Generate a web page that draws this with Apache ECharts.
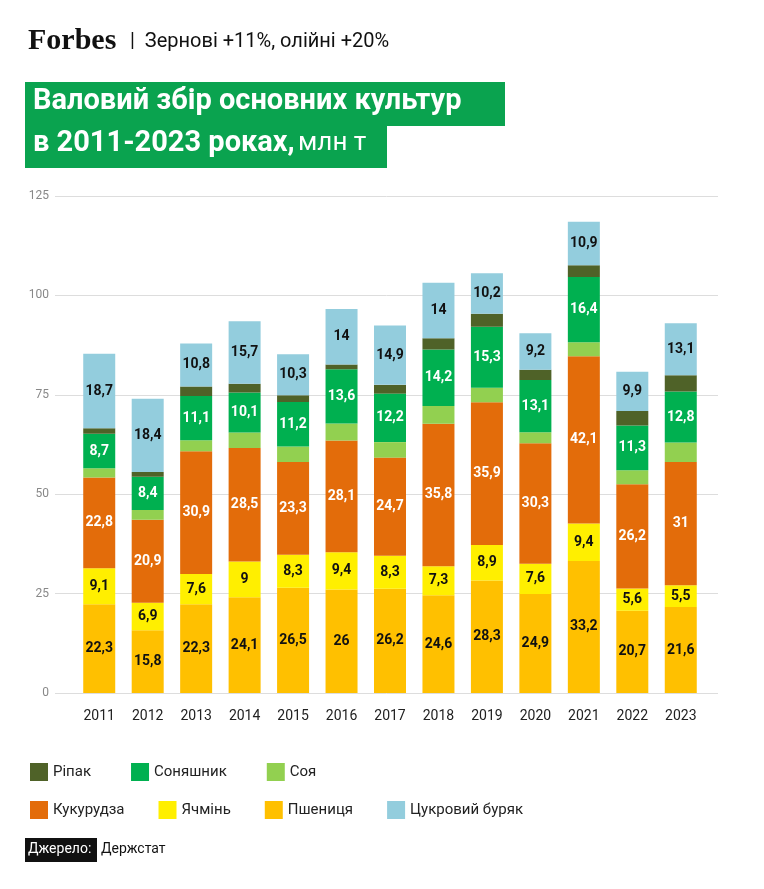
<!DOCTYPE html>
<html><head><meta charset="utf-8">
<script src="https://cdn.jsdelivr.net/npm/echarts@6/dist/echarts.min.js"></script>
<style>html,body{margin:0;padding:0;background:#fff}#c{width:764px;height:889px}</style>
</head><body><div id="c"></div>
<script>
// Роки
const years = ['2011','2012','2013','2014','2015','2016','2017','2018','2019','2020','2021','2022','2023'];
// Культури, млн т
const wheat = [22.3,15.8,22.3,24.1,26.5,26,26.2,24.6,28.3,24.9,33.2,20.7,21.6];
const barley = [9.1,6.9,7.6,9,8.3,9.4,8.3,7.3,8.9,7.6,9.4,5.6,5.5];
const corn = [22.8,20.9,30.9,28.5,23.3,28.1,24.7,35.8,35.9,30.3,42.1,26.2,31];
const soy = [2.3,2.4,2.8,3.9,3.9,4.3,3.9,4.5,3.7,2.8,3.5,3.5,4.9];
const sunflower = [8.7,8.4,11.1,10.1,11.2,13.6,12.2,14.2,15.3,13.1,16.4,11.3,12.8];
const rapeseed = [1.4,1.2,2.4,2.2,1.7,1.2,2.2,2.8,3.3,2.6,3.0,3.6,4.1];
const beet = [18.7,18.4,10.8,15.7,10.3,14,14.9,14,10.2,9.2,10.9,9.9,13.1];

const chart = echarts.init(document.getElementById('c'));

function series(name, data, color, labelColor) {
    return {
        name: name, type: 'bar', stack: 'all', data: data, barWidth: 32,
        itemStyle: { color: color },
        label: {
            show: !!labelColor, position: 'inside', color: labelColor,
            fontWeight: 'bold', fontSize: 14, fontFamily: 'Roboto',
            formatter: p => String(p.value).replace('.', ',')
        }
    };
}

chart.setOption({
    animation: false,
    textStyle: { fontFamily: 'Roboto' },
    grid: [
        { left: 75, right: 59, top: 196, bottom: 196 },
        { left: 55, right: 46, top: 196, bottom: 196 }
    ],
    xAxis: [{
        type: 'category', data: years, gridIndex: 0,
        axisLine: { show: false }, axisTick: { show: false },
        axisLabel: { color: '#222', fontSize: 14, margin: 16 }
    }, { type: 'value', gridIndex: 1, show: false }],
    yAxis: [{
        type: 'value', min: 0, max: 125, interval: 25, gridIndex: 0,
        axisLabel: { show: false }, splitLine: { show: false }, axisLine: { show: false }
    }, {
        type: 'value', min: 0, max: 125, interval: 25, gridIndex: 1, z: 0,
        axisLine: { show: false }, axisTick: { show: false },
        axisLabel: { color: '#888', fontSize: 12, margin: 6, align: 'right' },
        splitLine: { lineStyle: { color: '#ddd' } }
    }],
    legend: [
        { left: 25, top: 758, itemWidth: 18, itemHeight: 18, itemGap: 40, icon: 'rect',
          textStyle: { fontSize: 15, color: '#222' },
          data: ['Ріпак', 'Соняшник', 'Соя'] },
        { left: 25, top: 796, itemWidth: 18, itemHeight: 18, itemGap: 34, icon: 'rect',
          textStyle: { fontSize: 15, color: '#222' },
          data: ['Кукурудза', 'Ячмінь', 'Пшениця', 'Цукровий буряк'] }
    ],
    series: [
        series('Пшениця', wheat, '#ffc000', '#111'),
        series('Ячмінь', barley, '#ffef00', '#111'),
        series('Кукурудза', corn, '#e36c0a', '#fff'),
        series('Соя', soy, '#92d050', null),
        series('Соняшник', sunflower, '#00b050', '#fff'),
        series('Ріпак', rapeseed, '#4f6228', null),
        series('Цукровий буряк', beet, '#93cddd', '#111')
    ],
    graphic: [
        { type: 'text', left: 28, top: 26, style: { text: 'Forbes', font: 'bold 30px "Liberation Serif"', fill: '#111' } },
        { type: 'text', left: 130, top: 32, style: { text: '|  Зернові +11%, олійні +20%', font: '20px Roboto', fill: '#111' } },
        { type: 'rect', left: 25, top: 82, shape: { width: 480, height: 44 }, style: { fill: '#0aa34f' } },
        { type: 'rect', left: 25, top: 124, shape: { width: 362, height: 44 }, style: { fill: '#0aa34f' } },
        { type: 'text', left: 33, top: 87, style: { text: 'Валовий збір основних культур', font: 'bold 29px Roboto', fill: '#fff' } },
        { type: 'text', left: 33, top: 129, style: { rich: { a: { font: 'bold 29px Roboto', fill: '#fff' }, b: { font: '26px Roboto', fill: '#fff' } }, text: '{a|в 2011-2023 роках,} {b|млн т}' } },
        { type: 'rect', left: 25, top: 838, shape: { width: 72, height: 24 }, style: { fill: '#111' } },
        { type: 'text', left: 28, top: 842, style: { text: 'Джерело:', font: '14px Roboto', fill: '#fff' } },
        { type: 'text', left: 101, top: 842, style: { text: 'Держстат', font: '14px Roboto', fill: '#111' } }
    ]
});
</script></body></html>
